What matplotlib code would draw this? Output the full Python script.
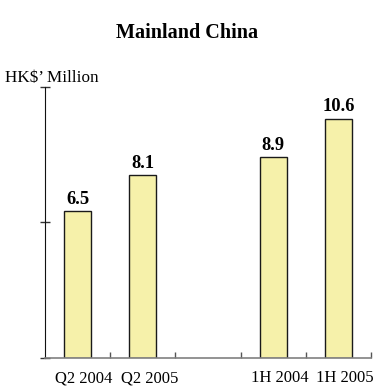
import matplotlib.pyplot as plt

labels = ["Q2 2004", "Q2 2005", "1H 2004", "1H 2005"]
values = [6.5, 8.1, 8.9, 10.6]
slots = [0, 1, 3, 4]

plt.rcParams["font.family"] = ["Liberation Serif", "DejaVu Serif"]

fig = plt.figure(figsize=(3.74, 3.88), dpi=100)
ax = fig.add_axes([0.1203, 0.0773, 0.8717, 0.6985])

ax.bar(slots, values, width=0.41, color="#f6f1aa", edgecolor="#1a1a1a", linewidth=1.0)
for x, v in zip(slots, values):
    ax.text(x, v + 0.15, f"{v:.1f}", ha="center", va="bottom",
            fontsize=13.3, fontweight="bold")

ax.set_xlim(-0.5, 4.5)
ax.set_ylim(0, 12)
ax.set_yticks([0, 6, 12])
ax.set_yticklabels([])
ax.tick_params(axis="y", direction="inout", length=7, width=1, color="#333333")

ax.set_xticks([0.5, 1.5, 2.5, 3.5, 4.5])
ax.set_xticklabels([])
ax.tick_params(axis="x", direction="in", length=4, width=1, color="#555555")
# category labels sit a bit right of the bars
for x, lab in zip(slots, labels):
    ax.text(x + 0.1, -0.55, lab, ha="center", va="top", fontsize=12)

for s in ["top", "right"]:
    ax.spines[s].set_visible(False)
ax.spines["left"].set_color("#111111")
ax.spines["bottom"].set_color("#808080")
ax.spines["bottom"].set_linewidth(1.2)

fig.text(0.5, 0.915, "Mainland China", ha="center", va="center",
         fontsize=14.5, fontweight="bold")
fig.text(0.013, 0.798, "HK$\u2019 Million", ha="left", va="center", fontsize=12.3)

fig.savefig("out.png", dpi=100)
